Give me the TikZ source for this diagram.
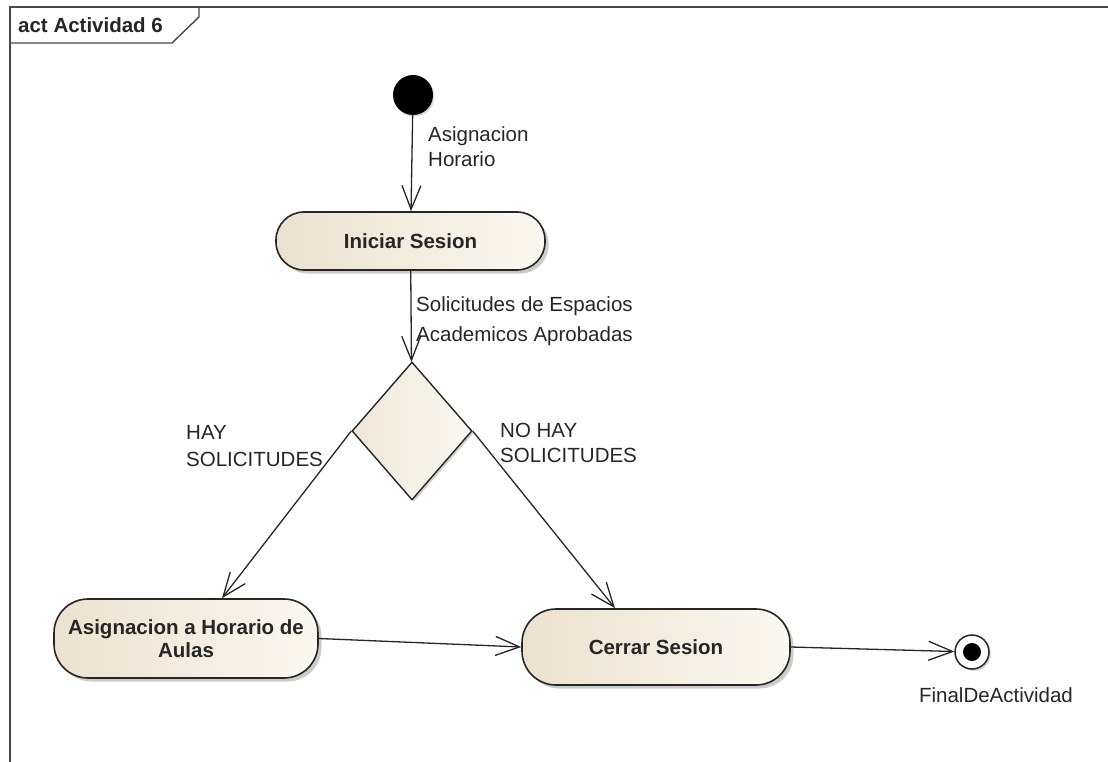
\documentclass[tikz,border=0pt]{standalone}
\usepackage{fontspec}
\setmainfont{Liberation Sans}
\usetikzlibrary{arrows.meta,shapes.geometric,shadows}

\definecolor{actleft}{HTML}{EBE1CF}
\definecolor{actright}{HTML}{FBF8F1}
\definecolor{ink}{HTML}{262626}

\tikzset{
  base/.style={font=\fontsize{20.5}{25}\selectfont, text=ink},
  action/.style={base, draw=ink, line width=1.6pt, rounded corners=28pt,
    left color=actleft, right color=actright, align=center,
    font=\fontsize{20.5}{23}\selectfont\bfseries,
    drop shadow={shadow xshift=3.5pt, shadow yshift=-3.5pt, opacity=0.4, fill=gray}},
  decision/.style={draw=ink, line width=1.4pt, diamond, inner sep=0pt,
    left color=actleft!80, right color=actright,
    drop shadow={shadow xshift=2pt, shadow yshift=-2pt, opacity=0.35, fill=gray}},
  flow/.style={draw=ink, line width=1.3pt,
    -{Straight Barb[length=24pt,width=19pt,line width=1.3pt]}},
  guard/.style={base, anchor=west, align=left, inner sep=0pt},
  frameline/.style={draw=ink!85, line width=1.8pt},
}

\begin{document}
\begin{tikzpicture}[x=1pt, y=-1pt]
  \useasboundingbox (0,0) rectangle (1108,762);

  % diagram frame and its name tab
  \draw[frameline] (10,800) -- (10,7) -- (1130,7);
  \draw[frameline, line width=1.4pt] (10,43) -- (172,43) -- (199,17) -- (199,7);
  \node[base, anchor=west, inner sep=0pt, font=\fontsize{20.5}{25}\selectfont\bfseries]
    (title) at (18,25) {act Actividad 6};

  % initial and final nodes
  \node[circle, fill=black, minimum size=40pt, inner sep=0pt,
        drop shadow={shadow xshift=1.5pt, shadow yshift=-1.5pt, opacity=0.3, fill=gray}]
    (init) at (413,95) {};
  \node[circle, draw=ink, line width=1.5pt, fill=white, minimum size=34pt, inner sep=0pt,
        drop shadow={shadow xshift=2pt, shadow yshift=-2pt, opacity=0.3, fill=gray}]
    (fin) at (972,652) {};
  \node[circle, fill=black, minimum size=18pt, inner sep=0pt] (findot) at (fin) {};
  \node[base, inner sep=0pt] (finlbl) at (996,695) {FinalDeActividad};

  % actions
  \node[action, minimum width=269pt, minimum height=58pt] (ini) at (410.5,241) {Iniciar Sesion};
  \node[action, rounded corners=34pt, minimum width=264pt, minimum height=79pt] (asig) at (186,638.5)
    {Asignacion a Horario de\\Aulas};
  \node[action, rounded corners=34pt, minimum width=268pt, minimum height=76pt] (cer) at (656,647) {Cerrar Sesion};

  % decision
  \node[decision, minimum width=120pt, minimum height=138pt] (dia) at (412,431) {};

  % flows
  \draw[flow] (init) -- (ini);
  \draw[flow] (ini) -- (dia);
  \draw[flow] (dia.west) -- ([xshift=36pt]asig.north);
  \draw[flow] (dia.east) -- ([xshift=-41pt]cer.north);
  \draw[flow] (asig.east) -- (cer.west);
  \draw[flow] (cer.east) -- (fin);

  % flow labels
  \node[guard] (l1) at (428,147) {Asignacion\\Horario};
  \node[guard, font=\fontsize{20.5}{30}\selectfont] (l2) at (416,321)
    {Solicitudes de Espacios\\Academicos Aprobadas};
  \node[guard, font=\fontsize{20.5}{27}\selectfont] (l3) at (186,446.5) {HAY\\SOLICITUDES};
  \node[guard] (l4) at (500,442.5) {NO HAY\\SOLICITUDES};
\end{tikzpicture}
\end{document}
